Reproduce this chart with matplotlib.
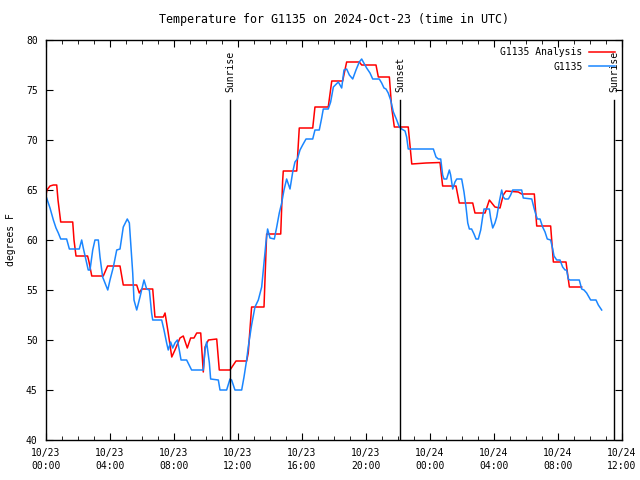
import numpy as np
from matplotlib import pyplot as plt
from matplotlib.ticker import MultipleLocator

# hours since 2024-10-23 00:00 UTC
analysis_hours = [0.0, 0.06, 0.25, 0.46, 0.67, 0.75, 0.92, 1.67, 1.75, 1.875,
                  2.6, 2.69, 2.86, 3.58, 3.85, 4.625, 4.83, 5.67, 5.83, 5.98,
                  6.67, 6.81, 7.33, 7.44, 7.64, 7.86, 8.06, 8.375, 8.58, 8.83,
                  9.04, 9.25, 9.42, 9.67, 9.83, 9.94, 10.15, 10.67, 10.83, 11.5,
                  11.875, 12.54, 12.64, 12.85, 13.625, 13.79, 14.67, 14.79, 14.83, 15.67,
                  15.83, 16.67, 16.81, 17.64, 17.86, 18.54, 18.79, 19.58, 19.73, 20.625,
                  20.77, 21.46, 21.6, 21.77, 22.64, 22.86, 23.75, 24.625, 24.79, 25.625,
                  25.83, 26.67, 26.81, 27.44, 27.71, 28.06, 28.375, 28.58, 28.75, 29.52,
                  29.73, 30.52, 30.67, 31.54, 31.71, 32.5, 32.71, 33.48]
analysis_temp = [64.5, 65.0, 65.4, 65.5, 65.5, 64.0, 61.8, 61.8, 60.0, 58.4,
                 58.4, 57.8, 56.4, 56.4, 57.4, 57.4, 55.5, 55.5, 54.7, 55.1,
                 55.1, 52.3, 52.3, 52.7, 50.7, 48.3, 49.0, 50.2, 50.4, 49.2,
                 50.2, 50.2, 50.7, 50.7, 46.8, 49.3, 50.0, 50.1, 47.0, 47.0,
                 47.9, 47.9, 48.7, 53.3, 53.3, 60.6, 60.6, 65.9, 66.9, 66.9,
                 71.2, 71.2, 73.3, 73.3, 75.9, 75.9, 77.8, 77.8, 77.5, 77.5,
                 76.3, 76.3, 73.3, 71.3, 71.3, 67.6, 67.7, 67.75, 65.4, 65.4,
                 63.7, 63.7, 62.7, 62.7, 64.0, 63.3, 63.2, 64.5, 64.9, 64.8,
                 64.6, 64.6, 61.4, 61.4, 57.8, 57.8, 55.3, 55.3]

obs_hours = [0.04, 0.25, 0.46, 0.625, 0.77, 0.92, 1.29, 1.46, 2.08, 2.23,
             2.33, 2.5, 2.64, 2.75, 2.92, 3.06, 3.27, 3.375, 3.54, 3.69,
             3.86, 4.0, 4.21, 4.42, 4.625, 4.83, 5.08, 5.21, 5.42, 5.5,
             5.67, 5.875, 6.125, 6.29, 6.46, 6.6, 6.67, 7.23, 7.375, 7.54,
             7.64, 7.79, 7.92, 8.06, 8.21, 8.33, 8.44, 8.79, 9.1, 9.83,
             9.94, 10.04, 10.21, 10.29, 10.77, 10.875, 11.29, 11.5, 11.6, 11.81,
             12.23, 12.375, 12.54, 12.64, 12.85, 13.06, 13.27, 13.48, 13.625, 13.75,
             13.85, 14.0, 14.27, 14.42, 14.58, 14.73, 14.875, 15.04, 15.25, 15.42,
             15.56, 15.71, 15.875, 16.04, 16.25, 16.67, 16.81, 17.08, 17.23, 17.33,
             17.64, 17.79, 17.96, 18.27, 18.48, 18.625, 18.79, 18.96, 19.17, 19.375,
             19.58, 19.73, 19.83, 20.04, 20.25, 20.42, 20.83, 20.98, 21.125, 21.25,
             21.39, 21.54, 21.71, 21.92, 22.08, 22.23, 22.44, 22.54, 22.64, 24.21,
             24.375, 24.52, 24.67, 24.79, 24.875, 25.04, 25.21, 25.29, 25.42, 25.56,
             25.67, 25.98, 26.125, 26.25, 26.36, 26.46, 26.6, 26.75, 26.875, 27.02,
             27.17, 27.29, 27.375, 27.71, 27.79, 27.92, 28.06, 28.17, 28.33, 28.48,
             28.58, 28.69, 28.9, 29.04, 29.17, 29.73, 29.83, 30.36, 30.5, 30.625,
             30.71, 30.875, 31.04, 31.19, 31.33, 31.54, 31.67, 31.75, 31.92, 32.125,
             32.29, 32.44, 32.54, 32.64, 32.75, 33.33, 33.48, 33.625, 33.79, 33.9,
             34.04, 34.375, 34.52, 34.73]
obs_temp = [64.2, 63.2, 62.0, 61.2, 60.7, 60.1, 60.1, 59.1, 59.1, 60.0,
            59.2, 58.0, 57.0, 57.0, 59.0, 60.0, 60.0, 58.3, 56.3, 55.7,
            55.0, 56.0, 57.3, 59.0, 59.1, 61.3, 62.1, 61.7, 56.7, 54.0,
            53.0, 54.3, 56.0, 55.1, 55.0, 52.7, 52.0, 52.0, 51.0, 49.7,
            49.0, 49.8, 49.2, 49.7, 50.0, 49.0, 48.0, 48.0, 47.0, 47.0,
            49.0, 49.8, 47.7, 46.1, 46.0, 45.0, 45.0, 46.1, 46.0, 45.0,
            45.0, 46.3, 48.0, 49.3, 51.5, 53.3, 54.0, 55.3, 57.7, 59.8,
            61.1, 60.2, 60.1, 61.3, 62.7, 63.7, 65.0, 66.1, 65.1, 66.8,
            67.8, 68.1, 69.0, 69.5, 70.1, 70.1, 71.0, 71.0, 72.2, 73.1,
            73.1, 73.8, 75.3, 75.8, 75.2, 77.0, 77.1, 76.5, 76.1, 77.0,
            77.8, 78.1, 77.8, 77.2, 76.7, 76.1, 76.1, 75.7, 75.2, 75.1,
            74.7, 74.0, 72.8, 72.0, 71.3, 71.1, 70.9, 70.3, 69.1, 69.1,
            68.3, 68.1, 68.1, 66.5, 66.1, 66.1, 67.0, 66.5, 65.1, 65.8,
            66.1, 66.1, 64.8, 63.3, 61.7, 61.1, 61.1, 60.6, 60.1, 60.1,
            61.0, 62.3, 63.1, 63.1, 62.2, 61.2, 61.7, 62.3, 63.8, 65.0,
            64.3, 64.1, 64.1, 64.5, 65.0, 65.0, 64.2, 64.1, 63.2, 62.5,
            62.1, 62.1, 61.3, 60.8, 60.1, 60.0, 59.1, 58.4, 58.0, 58.0,
            57.3, 57.0, 57.0, 56.1, 56.0, 56.0, 55.1, 55.0, 54.7, 54.4,
            54.0, 54.0, 53.5, 53.0]

sun_events = [(11.5, 'Sunrise'), (22.125, 'Sunset'), (35.5, 'Sunrise')]
sun_line_top = 74.0

tick_hours = list(range(0, 37, 4))
tick_labels = ['10/23\n00:00', '10/23\n04:00', '10/23\n08:00', '10/23\n12:00',
               '10/23\n16:00', '10/23\n20:00', '10/24\n00:00', '10/24\n04:00',
               '10/24\n08:00', '10/24\n12:00']

plt.rcParams['font.family'] = ['DejaVu Sans Mono']
plt.rcParams['font.size'] = 7

fig = plt.figure(figsize=(6.4, 4.8), dpi=100)
ax = fig.add_axes([46 / 640, 40 / 480, 576 / 640, 400 / 480])

ax.plot(analysis_hours, analysis_temp, color='#ff0000', lw=1.1, label='G1135 Analysis')
ax.plot(obs_hours, obs_temp, color='#1a86ff', lw=1.1, label='G1135')

for hour, name in sun_events:
    ax.plot([hour, hour], [40, sun_line_top], color='black', lw=1)
    ax.text(hour, sun_line_top + 0.8, name, rotation=90, ha='center', va='bottom')

ax.set_xlim(0, 36)
ax.set_ylim(40, 80)
ax.set_xticks(tick_hours)
ax.set_xticklabels(tick_labels, linespacing=1.45)
ax.xaxis.set_minor_locator(MultipleLocator(1))
ax.set_yticks(range(40, 81, 5))
ax.tick_params(which='both', direction='in', top=True, right=True)
ax.tick_params(axis='x', pad=5.5)
ax.tick_params(axis='y', pad=6)
ax.tick_params(which='major', length=5)
ax.tick_params(which='minor', length=3)
for s in ax.spines.values():
    s.set_linewidth(1)

ax.set_ylabel('degrees F')
ax.yaxis.set_label_coords(-30 / 576, 0.5)
ax.set_title('Temperature for G1135 on 2024-Oct-23 (time in UTC)', pad=12)
ax.legend(loc='upper right', frameon=False, markerfirst=False, handlelength=2.6,
          borderaxespad=0.35, labelspacing=0.45, handletextpad=0.7)

plt.savefig('out.png', dpi=100)
